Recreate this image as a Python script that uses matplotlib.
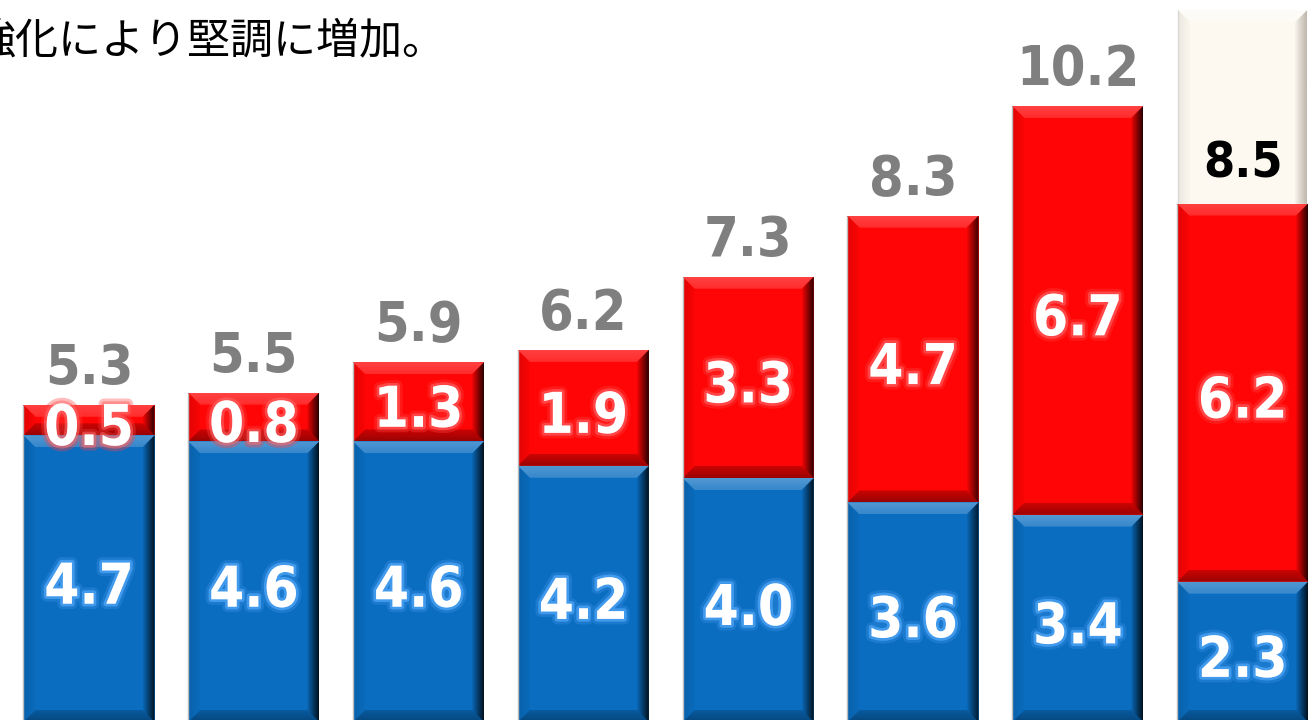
import numpy as np
import matplotlib
matplotlib.use("Agg")
import matplotlib.pyplot as plt
from matplotlib.patches import Polygon
import matplotlib.patheffects as pe
from matplotlib import font_manager as fm

# ---------------- data ----------------
blue_values = [4.7, 4.6, 4.6, 4.2, 4.0, 3.6, 3.4, 2.3]
red_values = [0.5, 0.8, 1.3, 1.9, 3.3, 4.7, 6.7, 6.2]
total_labels = ["5.3", "5.5", "5.9", "6.2", "7.3", "8.3", "10.2", "8.5"]
highlight_index = 7
highlight_top = 11.67
title_text = "強化により堅調に増加。"

# ---------------- layout ----------------
W, H = 1311, 720
fig = plt.figure(figsize=(W / 100, H / 100), dpi=100)
ax = fig.add_axes([0, 0, 1, 1])
XLIM = (-0.540, 7.415)
YLIM = (0.033, 11.836)
PX_X = W / (XLIM[1] - XLIM[0])
PX_Y = H / (YLIM[1] - YLIM[0])

x = np.arange(len(blue_values))
width = 0.795

BLUE = "#0A6DC0"
RED = "#FF0505"
CREAM = "#FDF9F1"

# fonts
cond_path = None
for f in fm.fontManager.ttflist:
    if "DejaVuSansCondensed-Bold.ttf" in f.fname:
        cond_path = f.fname
        break


def numfont(size):
    if cond_path:
        return fm.FontProperties(fname=cond_path, size=size)
    return fm.FontProperties(family="DejaVu Sans", weight="bold", size=size * 0.9)


def grad_side(pts, extent, direction, color, a0, a1, z):
    n = 64
    rgb = np.array(matplotlib.colors.to_rgb(color))
    alpha = np.linspace(a0, a1, n)
    if direction == "x":
        img = np.zeros((1, n, 4))
        img[0, :, :3] = rgb
        img[0, :, 3] = alpha
    else:
        img = np.zeros((n, 1, 4))
        img[:, 0, :3] = rgb
        img[:, 0, 3] = alpha
    im = ax.imshow(img, extent=extent, origin="lower", aspect="auto",
                   zorder=z, interpolation="bilinear")
    poly = Polygon(pts, closed=True, transform=ax.transData,
                   facecolor="none", edgecolor="none")
    im.set_clip_path(poly)


def bevel(patch, light=0.28, dark=0.85, bottom_dark=0.35, edge="#BBBBBB",
          dark_color="black", z=3, b=12):
    x0, y0 = patch.get_x(), patch.get_y()
    w, h = patch.get_width(), patch.get_height()
    x1, y1 = x0 + w, y0 + h
    bx, by = b / PX_X, b / PX_Y
    by_ = min(by, h / 2.0)
    # top
    grad_side([(x0, y1), (x1, y1), (x1 - bx, y1 - by_), (x0 + bx, y1 - by_)],
              (x0, x1, y1 - by_, y1), "y", "white", light * 0.6, light, z)
    # bottom
    grad_side([(x0, y0), (x1, y0), (x1 - bx, y0 + by_), (x0 + bx, y0 + by_)],
              (x0, x1, y0, y0 + by_), "y", dark_color, bottom_dark, bottom_dark * 0.5, z)
    # left
    grad_side([(x0, y0), (x0 + bx, y0 + by_), (x0 + bx, y1 - by_), (x0, y1)],
              (x0, x0 + bx, y0, y1), "x", dark_color, 0.12, 0.02, z)
    # right
    grad_side([(x1, y0), (x1 - bx, y0 + by_), (x1 - bx, y1 - by_), (x1, y1)],
              (x1 - bx, x1, y0, y1), "x", dark_color, 0.05, dark, z)
    ax.plot([x0, x0], [y0, y1], color=edge, lw=1.0, zorder=z + 0.1,
            solid_capstyle="butt")


# highlight box (background of the last bar)
hb = ax.bar(x[highlight_index], highlight_top, width=0.783, color=CREAM,
            linewidth=0, zorder=1)
for p in hb.patches:
    bevel(p, light=0.5, dark=0.45, bottom_dark=0.1, edge="#D8D8D8",
          dark_color="#6E6455", z=1.5)

blue_bars = ax.bar(x, blue_values, width, color=BLUE, linewidth=0, zorder=2)
red_bars = ax.bar(x, red_values, width, bottom=blue_values, color=RED,
                  linewidth=0, zorder=2)
for p in blue_bars.patches:
    bevel(p, light=0.30, dark=0.85, bottom_dark=0.35, z=3)
for p in red_bars.patches:
    bevel(p, light=0.25, dark=0.85, bottom_dark=0.40, z=3)

# ---------------- labels ----------------
glow_blue = [pe.Stroke(linewidth=8, foreground="#3D93E6", alpha=0.35),
             pe.Stroke(linewidth=4, foreground="#5AAEFF", alpha=0.6),
             pe.Normal()]
glow_red = [pe.Stroke(linewidth=8, foreground="#FF4040", alpha=0.35),
            pe.Stroke(linewidth=4, foreground="#FF6A6A", alpha=0.55),
            pe.Normal()]

for i, (b, r) in enumerate(zip(blue_values, red_values)):
    ax.annotate(f"{b:.1f}", xy=(x[i], b / 2), xytext=(0, -18),
                textcoords="offset points", ha="center", va="baseline",
                color="white", fontproperties=numfont(40.5),
                path_effects=glow_blue, zorder=6)
    ax.annotate(f"{r:.1f}", xy=(x[i], b + r / 2), xytext=(0, -18),
                textcoords="offset points", ha="center", va="baseline",
                color="white", fontproperties=numfont(40.5),
                path_effects=glow_red, zorder=6)
    if i == highlight_index:
        ax.annotate(total_labels[i], xy=(x[i], b + r), xytext=(0, 19),
                    textcoords="offset points", ha="center", va="baseline",
                    color="black", fontproperties=numfont(36), zorder=6)
    else:
        ax.annotate(total_labels[i], xy=(x[i], b + r), xytext=(0, 15),
                    textcoords="offset points", ha="center", va="baseline",
                    color="#7F7F7F", fontproperties=numfont(40), zorder=6)

# title (partially cut at left edge as in the reference)
ax.text(-0.0215, 0.942, title_text, transform=ax.transAxes, fontsize=31,
        family=["Noto Sans CJK JP", "DejaVu Sans"], color="black",
        ha="left", va="center")

ax.set_xlim(*XLIM)
ax.set_ylim(*YLIM)
ax.axis("off")
fig.savefig("out.png", dpi=100)
